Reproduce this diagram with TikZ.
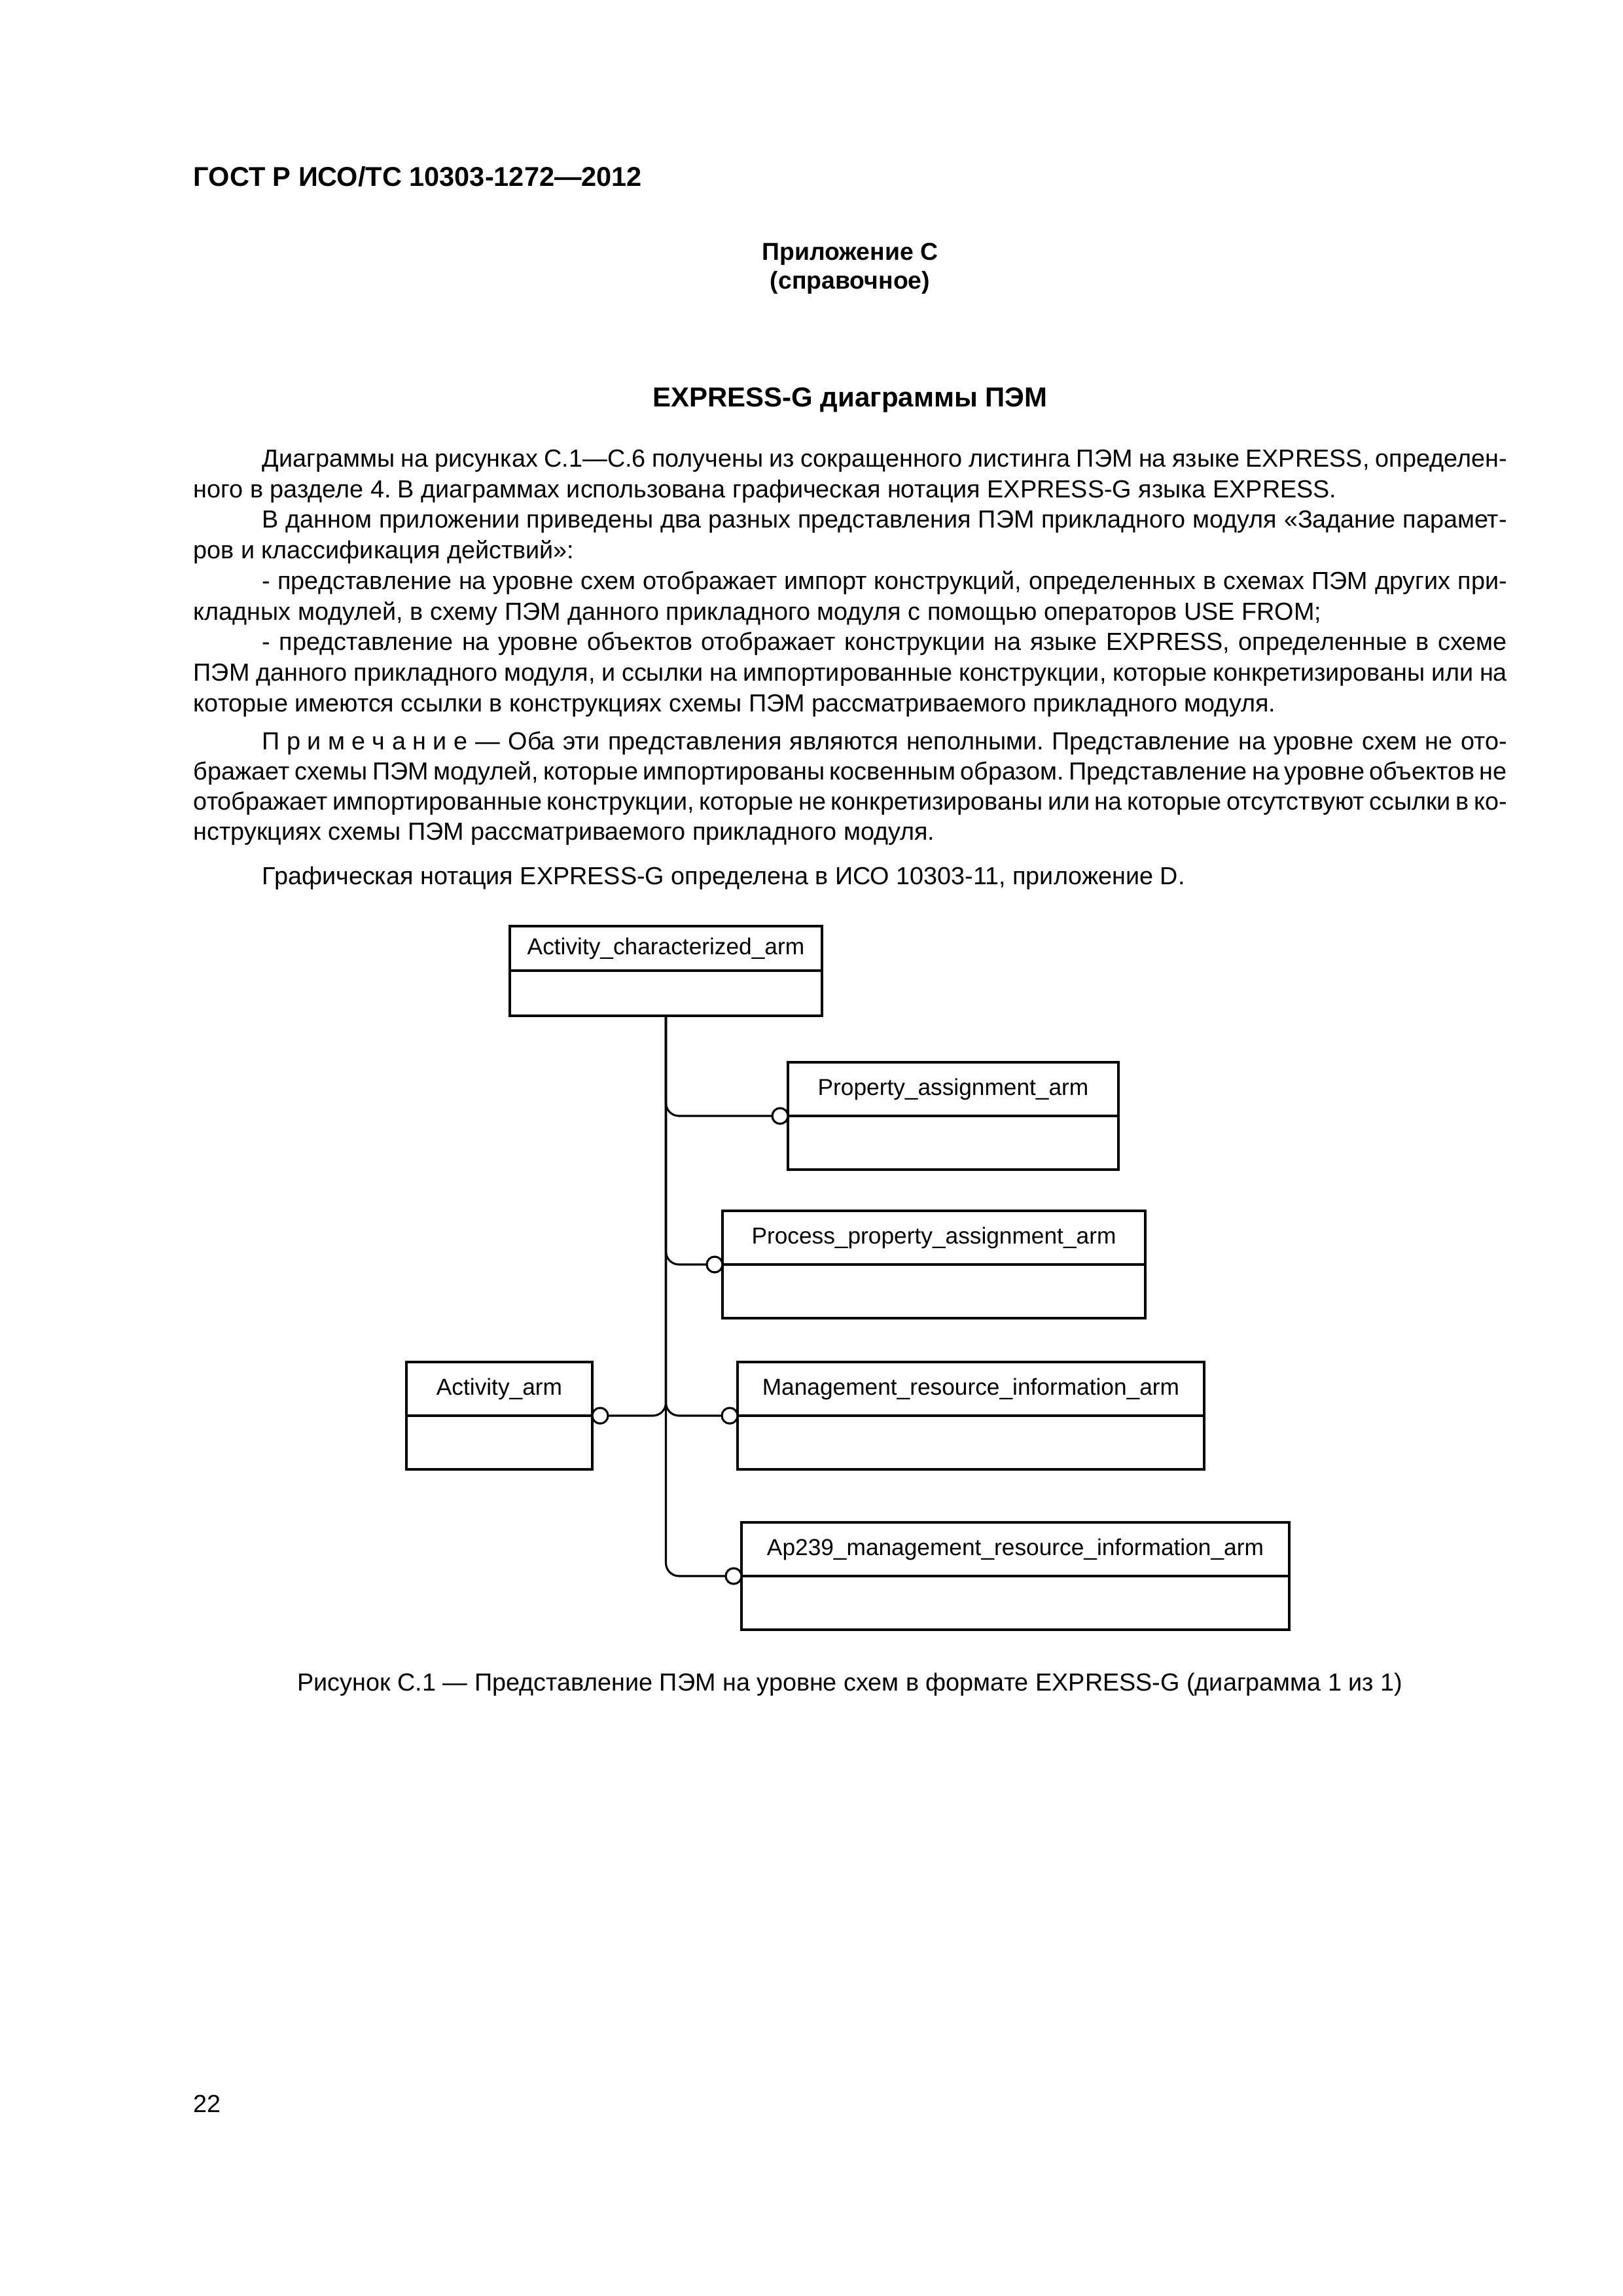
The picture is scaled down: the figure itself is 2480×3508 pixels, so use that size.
\documentclass[tikz,border=0pt]{standalone}
\usepackage{fontspec}
\setmainfont{Liberation Sans}
\usetikzlibrary{positioning}
\frenchspacing

\newlength\px
\setlength\px{0.0846667mm}
\newcommand\spaced{П\kern2.5pt р\kern2.5pt и\kern2.5pt м\kern2.5pt е\kern2.5pt ч\kern2.5pt а\kern2.5pt н\kern2.5pt и\kern2.5pt е}

\tikzset{
  txt/.style={anchor=base west, inner sep=0pt, font=\fontsize{9.1pt}{11pt}\selectfont},
  ttl/.style={anchor=base, inner sep=0pt, font=\fontsize{9pt}{11pt}\selectfont\bfseries},
  head/.style={draw, line width=0.85pt, inner sep=0pt, outer sep=0pt, anchor=north west,
    minimum height=82\px, font=\fontsize{8.5pt}{10pt}\selectfont},
  body/.style={draw, line width=0.85pt, inner sep=0pt, outer sep=0pt, minimum height=82\px},
  ring/.style={circle, draw, line width=0.75pt, fill=white, inner sep=0pt, outer sep=0pt, minimum size=24\px},
  link/.style={line width=0.75pt, rounded corners=20\px},
}

\begin{document}
\begin{tikzpicture}[x=1\px, y=-1\px]
  \useasboundingbox[fill=white] (0,0) rectangle (2480,3508);

  % Page header and titles
  \node[txt, font=\fontsize{10pt}{12pt}\selectfont\bfseries] (gost) at (295,284) {ГОСТ Р ИСО/ТС 10303-1272—2012};
  \node[ttl] (app) at (1299,397) {Приложение С};
  \node[ttl] (ref) at (1299,441) {(справочное)};
  \node[ttl, font=\fontsize{10.1pt}{12pt}\selectfont\bfseries] (title) at (1299,621) {EXPRESS-G диаграммы ПЭМ};

  % Text
  \node[txt] (l1) at (400,713) {\makebox[1902\px][s]{Диаграммы на рисунках С.1—С.6 получены из сокращенного листинга ПЭМ на языке EXPRESS, определен-}};
  \node[txt] (l2) at (295,760) {ного в разделе 4. В диаграммах использована графическая нотация EXPRESS-G языка EXPRESS.};
  \node[txt] (l3) at (400,806) {\makebox[1902\px][s]{В данном приложении приведены два разных представления ПЭМ прикладного модуля «Задание парамет-}};
  \node[txt] (l4) at (295,853) {ров и классификация действий»:};
  \node[txt] (l5) at (400,900) {\makebox[1902\px][s]{- представление на уровне схем отображает импорт конструкций, определенных в схемах ПЭМ других при-}};
  \node[txt] (l6) at (295,947) {кладных модулей, в схему ПЭМ данного прикладного модуля с помощью операторов USE FROM;};
  \node[txt] (l7) at (400,993) {\makebox[1902\px][s]{- представление на уровне объектов отображает конструкции на языке EXPRESS, определенные в схеме}};
  \node[txt] (l8) at (295,1040) {\makebox[2007\px][s]{ПЭМ данного прикладного модуля, и ссылки на импортированные конструкции, которые конкретизированы или на}};
  \node[txt] (l9) at (295,1087) {которые имеются ссылки в конструкциях схемы ПЭМ рассматриваемого прикладного модуля.};
  \node[txt] (l10) at (400,1145) {\makebox[1902\px][s]{\spaced\ — Оба эти представления являются неполными. Представление на уровне схем не ото-}};
  \node[txt] (l11) at (295,1191) {\makebox[2007\px][s]{бражает схемы ПЭМ модулей, которые импортированы косвенным образом. Представление на уровне объектов не}};
  \node[txt] (l12) at (295,1237) {\makebox[2007\px][s]{отображает импортированные конструкции, которые не конкретизированы или на которые отсутствуют ссылки в ко-}};
  \node[txt] (l13) at (295,1283) {нструкциях схемы ПЭМ рассматриваемого прикладного модуля.};
  \node[txt] (l14) at (400,1351) {Графическая нотация EXPRESS-G определена в ИСО 10303-11, приложение D.};

  % Entities
  \node[head, minimum width=477\px, minimum height=68\px] (aca) at (779,1415) {Activity\_characterized\_arm};
  \node[body, minimum width=477\px, minimum height=69\px, below=0pt of aca] (aca-b) {};
  \node[head, minimum width=505\px] (pa) at (1204,1623) {Property\_assignment\_arm};
  \node[body, minimum width=505\px, below=0pt of pa] (pa-b) {};
  \node[head, minimum width=646\px] (ppa) at (1104,1850) {Process\_property\_assignment\_arm};
  \node[body, minimum width=646\px, below=0pt of ppa] (ppa-b) {};
  \node[head, minimum width=284\px] (aa) at (621,2081) {Activity\_arm};
  \node[body, minimum width=284\px, below=0pt of aa] (aa-b) {};
  \node[head, minimum width=713\px] (mri) at (1127,2081) {Management\_resource\_information\_arm};
  \node[body, minimum width=713\px, below=0pt of mri] (mri-b) {};
  \node[head, minimum width=837\px] (ap) at (1133,2326) {Ap239\_management\_resource\_information\_arm};
  \node[body, minimum width=837\px, below=0pt of ap] (ap-b) {};

  % Rings
  \node[ring, left=0pt of pa.south west] (pa-c) {};
  \node[ring, left=0pt of ppa.south west] (ppa-c) {};
  \node[ring, right=0pt of aa.south east] (aa-c) {};
  \node[ring, left=0pt of mri.south west] (mri-c) {};
  \node[ring, left=0pt of ap.south west] (ap-c) {};

  % Edges
  \draw[link] (aca-b.south) |- (ap-c);
  \draw[link] (aca-b.south) |- (pa-c);
  \draw[link] (aca-b.south) |- (ppa-c);
  \draw[link] (aca-b.south) |- (mri-c);
  \draw[link] (aa-c) -| (aca-b.south);

  % Caption and page number
  \node[ttl, font=\fontsize{9.1pt}{11pt}\selectfont] (cap) at (1299,2583) {Рисунок С.1 — Представление ПЭМ на уровне схем в формате EXPRESS-G (диаграмма 1 из 1)};
  \node[txt] (page) at (295,3227) {22};
\end{tikzpicture}
\end{document}
